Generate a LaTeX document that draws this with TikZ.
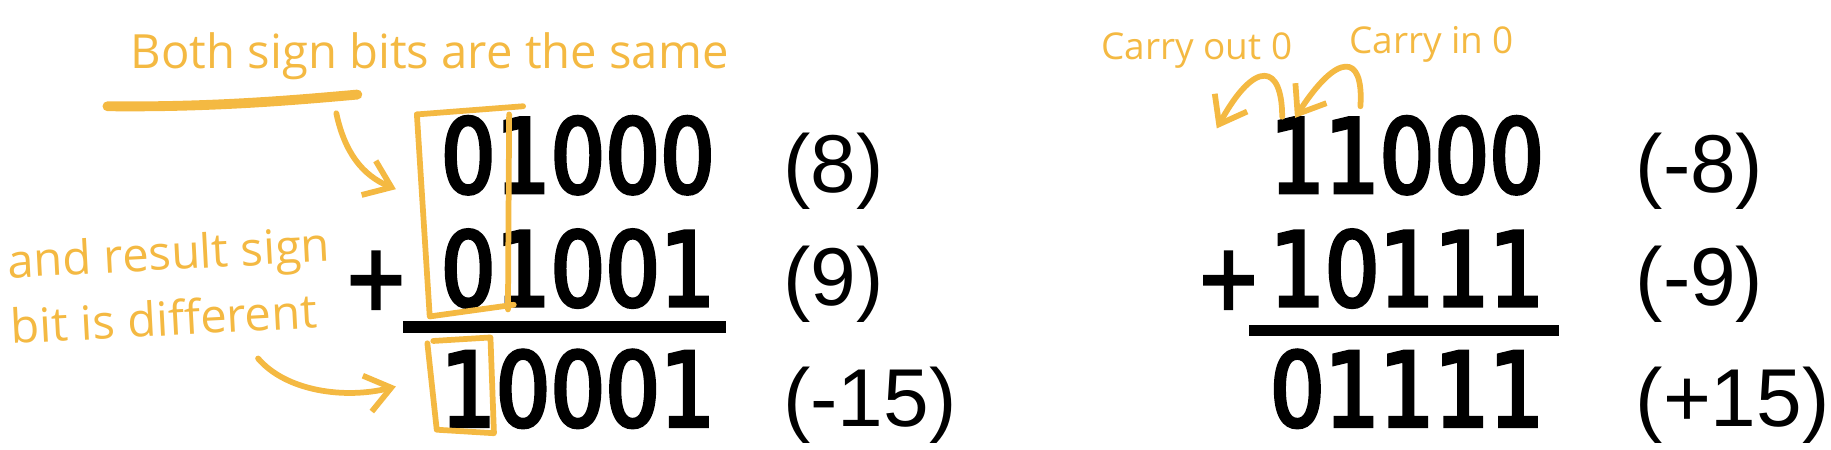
\documentclass[tikz,border=0pt]{standalone}
\usepackage{fontspec}
\setmainfont{Liberation Sans}
\newfontfamily\bitfont[FakeStretch=0.84,FakeBold=3.5]{DejaVu Sans}
\newfontfamily\handfont{Open Sans}
\usetikzlibrary{arrows.meta}
\definecolor{marker}{HTML}{F4B942}
\tikzset{
  bits/.style={font=\bitfont\fontsize{25}{25}\selectfont, anchor=base east, inner sep=0pt},
  value/.style={font=\fontsize{20}{20}\selectfont, anchor=base west, inner sep=0pt},
  note/.style={font=\handfont\fontsize{11.5}{16}\selectfont, text=marker, align=left, inner sep=0pt},
  pen/.style={draw=marker, line width=1.4pt, line cap=round, line join=round},
  pen arrow/.style={pen, -{Straight Barb[length=6pt,width=9pt]}},
  sum bar/.style={line width=2.8pt},
}
\begin{document}
\begin{tikzpicture}
  \useasboundingbox (0,0) rectangle (15.68,-3.85);
  \node[bits] (augL) at (6.13,-1.65) {01000};
  \node[bits] (addL) at (6.13,-2.62) {01001};
  \node[bits] (sumL) at (6.13,-3.65) {10001};
  \node[bits,anchor=center,font=\bitfont\fontsize{22}{22}\selectfont] (plusL) at (3.22,-2.40) {+};
  \draw[sum bar] (3.45,-2.80) -- (6.22,-2.80);
  \node[value] (valAugL) at (6.70,-1.65) {(8)};
  \node[value] (valAddL) at (6.70,-2.62) {(9)};
  \node[value] (valSumL) at (6.70,-3.65) {(-15)};

  \node[bits] (augR) at (13.23,-1.65) {11000};
  \node[bits] (addR) at (13.23,-2.62) {10111};
  \node[bits] (sumR) at (13.23,-3.65) {01111};
  \node[bits,anchor=center,font=\bitfont\fontsize{22}{22}\selectfont] (plusR) at (10.52,-2.40) {+};
  \draw[sum bar] (10.70,-2.83) -- (13.35,-2.83);
  \node[value] (valAugR) at (14.00,-1.65) {(-8)};
  \node[value] (valAddR) at (14.00,-2.62) {(-9)};
  \node[value] (valSumR) at (14.00,-3.65) {(+15)};

  \node[note] (same) at (3.68,-0.48) {Both sign bits are the same};
  \node[note,rotate=3] (diff) at (1.46,-2.44) {and result sign\\bit is different};
  \node[note,font=\handfont\fontsize{9}{9}\selectfont] (cout) at (10.25,-0.43) {Carry out 0};
  \node[note,font=\handfont\fontsize{9}{9}\selectfont] (cin) at (12.26,-0.38) {Carry in 0};

  \draw[pen,line width=2.4pt] (0.92,-0.91) .. controls (1.80,-0.92) and (2.50,-0.86) .. (3.06,-0.81);
  \draw[pen] (3.57,-0.98) -- (3.68,-2.71) -- (4.40,-2.61);
  \draw[pen] (3.57,-0.98) -- (4.48,-0.91);
  \draw[pen] (4.36,-0.98) -- (4.35,-2.65);
  \draw[pen] (3.71,-2.92) -- (4.20,-2.89) -- (4.23,-3.71) -- (3.74,-3.68) -- (3.66,-2.94);

  \coordinate (sameTail) at (2.88,-0.97);
  \coordinate (sameTip) at (3.39,-1.62);
  \coordinate (diffTail) at (2.21,-3.07);
  \coordinate (diffTip) at (3.39,-3.31);
  \coordinate (coutTail) at (10.98,-1.00);
  \coordinate (coutTip) at (10.42,-1.10);
  \coordinate (cinTail) at (11.65,-0.91);
  \coordinate (cinTip) at (11.09,-1.01);
  \draw[pen arrow] (sameTail) .. controls (2.95,-1.30) and (3.10,-1.50) .. (sameTip);
  \draw[pen arrow] (diffTail) .. controls (2.45,-3.35) and (2.95,-3.42) .. (diffTip);
  \draw[pen arrow] (coutTail) .. controls (10.98,-0.55) and (10.75,-0.50) .. (coutTip);
  \draw[pen arrow] (cinTail) .. controls (11.68,-0.45) and (11.45,-0.45) .. (cinTip);
\end{tikzpicture}
\end{document}
